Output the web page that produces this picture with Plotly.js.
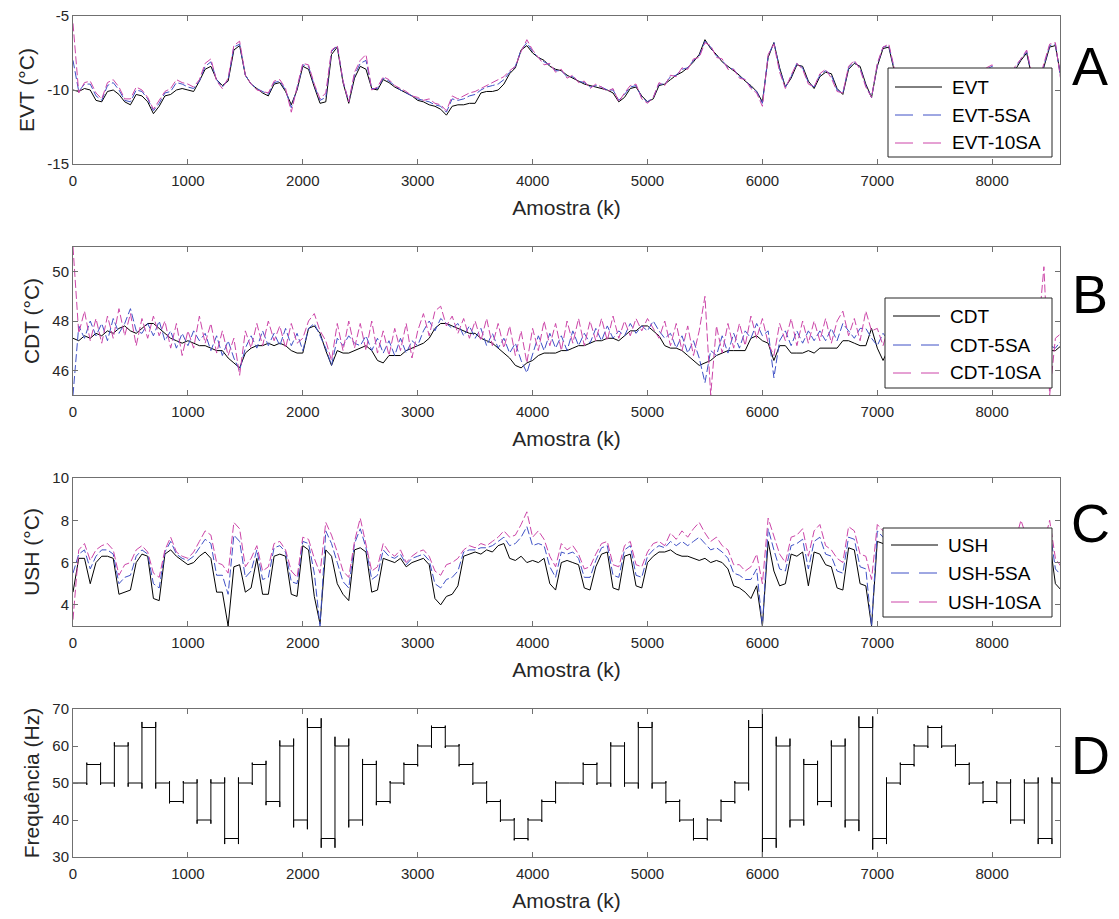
<!DOCTYPE html>
<html>
<head>
<meta charset="utf-8">
<script src="https://cdn.plot.ly/plotly-3.0.1.min.js"></script>
<style>
html,body{margin:0;padding:0;background:#fff;}
#chart{width:1119px;height:919px;}
</style>
</head>
<body>
<div id="chart"></div>
<script>
// ---------------- DATA ----------------
const sampleStep = 50;          // samples between stored values
const xMax = 8590;              // last sample shown

const evt = [
-10.0,-10.1,-9.9,-10.0,-10.7,-10.8,-10.1,-10.0,-10.3,-10.8,
-11.0,-10.3,-10.4,-10.8,-11.6,-11.1,-10.4,-10.3,-10.0,-9.9,
-10.0,-10.1,-9.4,-8.6,-8.4,-9.3,-9.7,-9.4,-7.3,-7.0,
-9.0,-9.6,-9.9,-10.2,-10.4,-9.6,-9.5,-10.1,-11.0,-10.0,
-8.4,-8.6,-9.8,-10.9,-10.8,-7.6,-7.1,-9.5,-10.9,-9.2,
-8.4,-8.6,-9.9,-10.0,-9.3,-9.5,-9.8,-10.0,-10.2,-10.4,
-10.7,-10.8,-11.0,-11.1,-11.3,-11.7,-11.1,-11.0,-11.0,-10.9,
-10.9,-10.2,-10.1,-10.1,-10.0,-9.6,-8.9,-8.5,-7.3,-7.0,
-7.5,-7.8,-8.0,-8.4,-8.6,-8.7,-9.0,-9.2,-9.4,-9.6,
-9.7,-9.8,-9.9,-10.0,-10.2,-10.8,-10.5,-9.9,-9.8,-10.4,
-10.8,-10.6,-9.7,-9.6,-9.3,-9.0,-8.8,-8.5,-8.1,-7.6,
-6.6,-7.2,-7.6,-8.1,-8.4,-8.7,-9.0,-9.4,-9.7,-10.1,
-10.8,-7.8,-6.8,-8.5,-9.8,-9.2,-8.3,-8.4,-9.4,-9.9,
-9.1,-8.8,-8.9,-9.9,-10.3,-8.6,-8.2,-8.4,-9.6,-10.5,
-8.4,-7.2,-7.1,-8.8,-9.6,-9.8,-9.4,-9.2,-9.5,-9.9,
-10.0,-9.6,-9.3,-9.5,-9.8,-9.6,-9.2,-9.0,-8.9,-8.7,
-8.6,-9.4,-9.8,-9.3,-8.6,-8.0,-7.5,-9.3,-9.8,-8.4,
-7.1,-7.0,-9.2];

const evt5sa = [
-8.0,-10.1,-9.6,-9.6,-10.4,-10.7,-9.7,-9.5,-10.0,-10.7,
-10.8,-10.0,-10.1,-10.6,-11.4,-10.9,-10.2,-10.1,-9.5,-9.6,
-9.8,-9.9,-9.4,-8.4,-8.1,-9.3,-9.8,-9.3,-7.1,-6.9,
-9.0,-9.6,-9.9,-10.1,-10.3,-9.5,-9.4,-10.0,-11.2,-9.9,
-8.3,-8.4,-9.7,-10.7,-10.5,-7.4,-7.0,-9.4,-10.8,-9.0,
-8.2,-8.0,-9.9,-9.9,-9.2,-9.4,-9.7,-10.0,-10.2,-10.4,
-10.6,-10.7,-10.8,-11.0,-11.1,-11.5,-10.6,-10.7,-10.6,-10.4,
-10.3,-10.0,-9.8,-9.7,-9.6,-9.3,-8.8,-8.4,-7.3,-6.8,
-7.4,-7.8,-8.1,-8.3,-8.7,-8.7,-9.1,-9.1,-9.4,-9.5,
-9.8,-9.7,-9.8,-10.0,-10.0,-10.7,-10.3,-9.8,-9.7,-10.5,
-10.8,-10.5,-9.6,-9.6,-9.1,-9.0,-8.6,-8.5,-8.0,-7.7,
-6.7,-7.1,-7.7,-8.0,-8.5,-8.6,-9.1,-9.3,-9.8,-10.1,
-10.9,-7.7,-6.8,-8.6,-9.8,-9.1,-8.2,-8.5,-9.5,-9.8,
-9.0,-8.7,-9.0,-10.0,-10.2,-8.5,-8.1,-8.5,-9.7,-10.5,
-8.3,-7.1,-7.0,-8.7,-9.5,-9.7,-9.3,-9.1,-9.4,-9.8,
-9.9,-9.5,-9.2,-9.4,-9.7,-9.5,-9.1,-8.9,-8.8,-8.6,
-8.4,-9.3,-9.7,-9.2,-8.5,-7.9,-7.4,-9.2,-9.7,-8.3,
-7.0,-6.9,-9.4];

const evt10sa = [
-5.5,-10.2,-9.5,-9.4,-10.2,-10.6,-9.5,-9.3,-9.8,-10.6,
-10.6,-9.8,-10.0,-10.5,-11.3,-10.7,-10.1,-9.9,-9.3,-9.5,
-9.6,-9.8,-9.3,-8.2,-7.9,-9.4,-9.9,-9.2,-7.0,-6.7,
-9.0,-9.6,-10.0,-10.1,-10.2,-9.4,-9.3,-9.9,-11.5,-9.8,
-8.2,-8.3,-9.6,-10.6,-10.2,-7.3,-7.0,-9.4,-10.8,-8.8,
-8.0,-7.6,-10.0,-9.8,-9.1,-9.3,-9.7,-9.9,-10.1,-10.4,
-10.5,-10.7,-10.6,-10.9,-11.0,-11.4,-10.4,-10.6,-10.4,-10.2,
-10.1,-9.9,-9.7,-9.5,-9.3,-9.1,-8.7,-8.4,-7.4,-6.6,
-7.3,-7.8,-8.3,-8.2,-8.8,-8.6,-9.2,-9.0,-9.5,-9.4,
-9.9,-9.6,-9.8,-10.1,-9.9,-10.8,-10.2,-9.7,-9.6,-10.6,
-10.9,-10.5,-9.5,-9.7,-9.0,-9.1,-8.5,-8.6,-7.9,-7.8,
-6.8,-7.0,-7.8,-7.9,-8.6,-8.6,-9.2,-9.3,-9.9,-10.2,
-11.1,-7.6,-6.9,-8.8,-9.9,-9.0,-8.2,-8.6,-9.6,-9.8,
-8.9,-8.6,-9.2,-10.1,-10.2,-8.4,-8.0,-8.6,-9.8,-10.5,
-8.2,-7.1,-6.9,-8.6,-9.4,-9.6,-9.2,-9.0,-9.3,-9.7,
-9.8,-9.4,-9.1,-9.3,-9.6,-9.4,-9.0,-8.8,-8.7,-8.5,
-8.3,-9.2,-9.6,-9.1,-8.4,-7.9,-7.3,-9.1,-9.6,-8.2,
-6.9,-6.8,-9.5];

const cdt = [
47.3,47.2,47.4,47.3,47.5,47.4,47.6,47.5,47.7,47.8,
47.6,47.5,47.7,47.9,47.9,47.7,47.5,47.3,47.2,47.1,
47.2,47.1,47.0,47.0,46.9,46.8,46.8,46.5,46.3,46.1,
46.7,46.9,47.0,47.0,47.1,47.0,47.1,47.0,46.8,46.7,
46.7,47.7,47.8,47.5,46.8,46.2,46.8,46.7,46.7,46.8,
46.9,47.0,46.8,46.4,46.3,46.6,46.6,46.6,46.8,46.9,
47.0,47.1,47.3,47.7,47.9,47.9,47.8,47.7,47.6,47.5,
47.5,47.3,47.2,47.1,46.9,46.7,46.5,46.2,46.1,46.3,
46.4,46.6,46.7,46.7,46.7,46.8,46.8,46.9,47.0,47.0,
47.1,47.2,47.2,47.3,47.3,47.2,47.4,47.6,47.6,47.8,
47.8,47.6,47.4,47.0,46.9,46.9,46.8,46.6,46.4,46.2,
46.3,46.4,46.6,46.7,46.8,46.8,46.8,46.8,47.3,47.4,
47.2,47.1,46.4,47.0,47.0,46.7,46.7,46.7,46.8,46.7,
46.9,46.9,46.9,46.9,47.2,47.2,47.1,47.0,47.0,47.7,
46.9,46.4,46.9,47.0,47.0,47.1,47.0,46.9,47.0,47.1,
47.0,46.9,47.0,47.1,47.0,46.9,47.0,47.1,47.0,46.9,
47.0,47.1,47.0,46.9,47.0,47.1,47.0,46.9,46.9,47.0,
46.8,46.8,47.0];

const cdt5sa = [
45.0,47.8,47.3,48.0,47.4,47.9,47.2,48.1,47.5,47.9,
48.5,47.6,47.5,47.9,47.4,48.0,47.2,47.6,46.9,47.5,
47.0,47.6,47.2,47.5,46.8,47.4,46.6,47.2,46.5,46.0,
46.9,47.4,46.9,47.6,47.0,47.5,47.0,47.7,47.0,47.5,
46.8,47.7,47.9,47.4,46.9,46.2,47.3,47.0,47.4,47.1,
47.0,47.4,46.8,47.3,46.7,47.2,46.6,47.3,46.7,47.2,
47.0,47.6,48.0,47.6,48.1,47.9,47.7,47.9,47.4,47.8,
47.3,47.7,47.0,47.5,46.9,47.3,46.7,47.1,46.4,45.9,
46.7,47.4,46.8,47.5,46.9,47.4,46.8,47.6,47.0,47.5,
47.1,47.7,47.2,47.8,47.3,47.6,47.4,47.9,47.5,47.8,
47.6,48.0,47.6,47.3,47.5,46.9,47.4,46.7,47.2,46.5,
45.5,46.8,46.6,47.4,46.7,47.5,46.9,47.6,47.3,47.9,
47.4,47.6,45.7,47.2,47.6,47.0,47.6,47.1,47.6,47.2,
47.6,47.2,47.7,47.2,47.9,47.6,47.3,47.7,47.7,47.3,
47.0,47.5,47.2,47.6,47.2,47.6,47.2,47.5,47.2,47.6,
47.2,47.5,47.2,47.6,47.2,47.5,47.2,47.6,47.2,47.5,
47.2,47.6,47.2,47.5,47.2,47.6,47.2,47.5,47.3,47.2,
47.0,46.9,47.2];

const cdt10sa = [
51.0,47.5,48.4,47.2,48.1,47.1,48.2,47.3,48.5,47.4,
48.3,47.0,48.1,47.3,48.2,47.4,48.0,46.9,47.9,46.6,
47.6,46.9,48.2,47.1,47.9,46.7,47.6,46.6,47.3,45.8,
47.6,46.9,47.9,47.0,48.0,47.2,47.8,46.9,47.9,47.1,
47.3,48.0,48.3,47.6,47.2,46.4,47.9,46.8,48.0,46.9,
47.9,46.8,48.0,46.7,47.6,46.6,47.7,46.8,47.9,46.5,
47.6,48.3,47.4,48.4,48.6,47.8,48.2,47.5,48.1,47.3,
48.0,47.2,48.1,47.0,47.9,46.9,47.8,46.6,47.6,46.3,
47.7,46.8,48.0,47.0,47.9,46.8,48.0,47.1,48.1,47.0,
48.0,47.2,48.1,47.2,48.2,47.3,48.0,47.4,48.1,47.6,
48.1,47.7,47.3,48.0,47.0,47.9,46.8,47.8,46.6,47.6,
49.0,45.0,47.8,46.7,47.9,46.9,47.9,47.0,48.2,47.3,
48.1,47.1,46.6,47.9,47.2,48.1,47.0,48.0,47.1,48.0,
47.2,48.1,47.1,48.0,48.4,47.4,48.1,47.2,48.4,47.6,
47.7,47.0,47.8,47.1,47.9,47.2,47.8,47.1,47.9,47.2,
47.8,47.1,47.9,47.2,47.8,47.1,47.9,47.2,47.8,47.1,
47.9,47.2,47.8,47.1,47.9,47.2,47.8,47.1,47.5,50.2,
45.0,47.3,47.5];

const ush = [
4.6,6.2,6.2,5.0,6.0,6.3,6.3,6.2,4.5,4.6,
4.7,6.0,6.4,6.3,4.3,4.2,6.4,6.6,6.3,6.1,
5.9,6.0,6.3,6.5,6.2,4.6,4.6,3.0,5.8,5.9,
4.6,4.8,6.2,4.5,4.5,6.3,6.4,6.3,4.5,4.4,
6.8,6.6,4.4,3.1,6.6,6.3,5.0,4.5,4.2,6.6,
6.7,6.5,4.6,4.7,6.2,6.1,6.0,6.2,5.8,6.0,
6.1,6.2,5.9,4.3,4.0,4.4,4.5,4.9,6.3,6.4,
6.5,6.4,6.6,6.5,6.8,6.9,6.2,6.1,6.3,6.0,
6.1,6.0,6.2,5.0,4.7,6.0,6.1,6.0,5.9,4.8,
4.7,5.8,6.4,6.5,4.8,4.7,6.3,6.4,4.9,4.8,
6.0,6.3,6.5,6.5,6.6,6.4,6.3,6.3,6.2,6.1,
6.2,6.0,6.1,6.0,5.7,4.9,4.8,4.6,4.3,4.9,
3.0,7.0,5.6,4.9,5.0,6.4,6.3,6.5,4.9,6.5,
6.4,5.9,5.8,4.8,4.7,6.7,6.6,5.0,4.9,3.0,
7.0,6.9,6.5,6.2,6.0,6.1,6.3,6.1,6.0,6.2,
6.1,6.0,6.1,6.2,6.0,5.9,6.1,6.0,6.2,6.1,
6.0,5.1,5.0,6.0,6.1,7.0,6.4,5.0,5.0,6.0,
7.0,5.0,4.7];

const ush5sa = [
5.5,6.4,6.6,5.7,6.3,6.6,6.6,6.4,5.0,5.3,
5.4,6.3,6.6,6.4,5.0,4.8,6.5,7.0,6.4,6.2,
6.1,6.3,6.7,7.1,6.9,5.4,5.4,4.5,7.3,7.0,
5.3,5.6,6.6,5.2,5.3,6.7,6.8,6.5,5.1,5.0,
7.0,6.9,5.5,3.0,7.5,6.9,6.0,5.1,4.8,6.9,
7.6,6.7,5.2,5.4,6.6,6.3,6.2,6.4,5.9,6.2,
6.3,6.4,6.1,5.0,4.8,5.2,5.3,5.6,6.5,6.6,
6.6,6.7,6.7,6.8,7.0,7.2,6.8,6.9,7.2,7.7,
6.8,6.9,6.8,5.8,5.3,6.5,6.4,6.5,6.2,5.3,
5.3,6.1,6.7,6.8,5.4,5.3,6.6,6.8,5.4,5.3,
6.3,6.6,6.8,6.7,7.0,6.8,7.0,6.8,7.0,7.2,
6.9,6.6,6.7,6.5,6.2,5.5,5.4,5.2,5.2,5.7,
3.0,7.6,6.6,5.7,5.6,6.8,6.9,7.1,5.7,7.0,
7.2,6.4,6.3,5.6,5.5,7.2,7.1,5.8,5.7,3.0,
7.5,7.2,6.9,6.5,6.4,6.5,6.7,6.5,6.3,6.6,
6.4,6.3,6.5,6.6,6.4,6.3,6.5,6.4,6.6,6.5,
6.4,5.6,5.5,6.4,6.6,7.6,6.8,5.6,5.6,6.5,
7.6,5.7,5.4];

const ush10sa = [
3.3,6.6,6.9,6.1,6.6,6.8,6.9,6.6,5.4,5.9,
6.0,6.6,6.8,6.5,5.5,5.3,6.6,7.2,6.5,6.3,
6.2,6.5,7.0,7.5,7.3,6.0,5.9,5.5,7.9,7.6,
5.8,6.2,6.8,5.6,5.8,6.9,7.0,6.6,5.6,5.3,
7.2,7.1,6.2,5.5,7.9,7.3,6.5,5.6,5.3,7.0,
8.1,6.9,5.6,5.8,6.9,6.5,6.3,6.6,6.0,6.3,
6.5,6.6,6.3,5.6,5.4,5.9,6.0,6.2,6.6,6.8,
6.7,6.9,6.8,7.0,7.2,7.5,7.2,7.3,7.8,8.4,
7.2,7.5,7.1,6.3,5.8,6.9,6.6,6.8,6.4,5.7,
5.8,6.4,6.9,7.0,5.9,5.8,6.8,7.0,5.9,5.8,
6.5,6.9,7.0,6.8,7.4,7.1,7.5,7.2,7.6,7.9,
7.4,7.0,7.2,6.8,6.6,5.9,5.9,5.6,5.8,6.4,
5.0,8.1,7.3,6.4,6.0,7.2,7.3,7.6,6.3,7.5,
7.8,6.8,6.6,6.2,6.0,7.7,7.5,6.4,6.3,5.2,
7.8,7.5,7.1,6.8,6.7,6.9,7.0,6.8,6.6,6.9,
6.7,6.6,6.8,6.9,6.7,6.6,6.8,6.7,6.9,6.8,
6.7,6.0,5.9,6.8,7.0,8.0,7.2,6.0,6.1,6.9,
8.0,6.2,5.8];

// Frequency steps (Hz), each lasting freqStepLen samples
const freqStepLen = 120;
const freqLevels = [
50,55,50,60,50,65,50,45,50,40,50,35,50,55,45,60,40,65,35,60,40,55,45,50,
55,60,65,60,55,50,45,40,35,40,45,50,50,55,50,60,50,65,50,45,40,35,40,45,
50,65,35,60,40,55,45,60,40,65,35,50,55,60,65,60,55,50,45,50,40,50,35,50];
// overshoot (Hz) seen at each transition into step i
const freqShoot = [
0,0.5,0.5,1,1,1.5,1.5,0.5,0.5,1,1,1.5,1.5,0.5,1,1.5,2,2.5,2.5,2.5,2,1.5,1,0.5,
0.5,0.5,0.5,0.5,0.5,0.5,0.5,0.5,0.5,0.5,0.5,0.5,0,0.5,0.5,1,1,1.5,1.5,0.5,0.5,0.5,0.5,0.5,
0.5,2,5,2.5,2,1.5,1,1.5,2,3,3,1.5,0.5,0.5,0.5,0.5,0.5,0.5,0.5,0.5,1,1,1.5,1.5];

const legendNames = [
  ['EVT', 'EVT-5SA', 'EVT-10SA'],
  ['CDT', 'CDT-5SA', 'CDT-10SA'],
  ['USH', 'USH-5SA', 'USH-10SA']];
const panelLetters = ['A', 'B', 'C', 'D'];

// ---------------- BUILD ----------------
const xs = evt.map((_, i) => i * sampleStep);

const fx = [0], fy = [freqLevels[0]];
for (let i = 1; i < freqLevels.length; i++) {
  const t = i * freqStepLen, prev = freqLevels[i-1], cur = freqLevels[i];
  const s = Math.sign(cur - prev), sh = freqShoot[i];
  fx.push(t, t, t, t);
  fy.push(prev, prev - s*sh, cur + s*sh, cur);
}
fx.push(xMax); fy.push(freqLevels[freqLevels.length-1]);

const BLUE = '#3f51c6', MAG = '#cc45a8', BLK = '#000000';
const COLORS = [BLK, BLUE, MAG];
const DATA_DASH = ['solid', '8px,3px', '8px,3px'];
const LEG_DASH = ['solid', '18px,10px', '18px,10px'];
const FONT = 'Liberation Sans, Arial, Helvetica, sans-serif';

function tr(y, k, xa, ya) {
  return {x: xs, y: y, type: 'scatter', mode: 'lines', showlegend: false,
    line: {color: COLORS[k], width: 1, dash: DATA_DASH[k]}, xaxis: xa, yaxis: ya};
}

const traces = [
  tr(evt, 0, 'x', 'y'), tr(evt5sa, 1, 'x', 'y'), tr(evt10sa, 2, 'x', 'y'),
  tr(cdt, 0, 'x2', 'y2'), tr(cdt5sa, 1, 'x2', 'y2'), tr(cdt10sa, 2, 'x2', 'y2'),
  tr(ush, 0, 'x3', 'y3'), tr(ush5sa, 1, 'x3', 'y3'), tr(ush10sa, 2, 'x3', 'y3'),
  {x: fx, y: fy, type: 'scatter', mode: 'lines', line: {color: BLK, width: 1},
   xaxis: 'x4', yaxis: 'y4', showlegend: false}
];

const W = 1119, H = 919;
const xdom = [73/W, 1060/W];
function ydom(top, bottom) { return [1 - bottom/H, 1 - top/H]; }
const px = v => v / W, py = v => 1 - v / H;

function xax(anchor) {
  return {domain: xdom, anchor: anchor, range: [0, xMax],
    tickvals: [0,1000,2000,3000,4000,5000,6000,7000,8000], tickformat: 'd',
    ticks: 'inside', ticklen: 5, tickcolor: '#707070', tickwidth: 1,
    showline: true, linecolor: '#707070', linewidth: 1, mirror: 'ticks',
    showgrid: false, zeroline: false, ticklabelstandoff: 3,
    tickfont: {family: FONT, size: 15, color: '#262626'},
    title: {text: 'Amostra (k)', font: {family: FONT, size: 21, color: '#262626'}, standoff: 12}};
}
function yax(anchor, dom, range, vals, text, title) {
  return {domain: dom, anchor: anchor, range: range, tickvals: vals, ticktext: text,
    ticks: 'inside', ticklen: 5, tickcolor: '#707070', tickwidth: 1,
    showline: true, linecolor: '#707070', linewidth: 1, mirror: 'ticks',
    showgrid: false, zeroline: false,
    tickfont: {family: FONT, size: 15, color: '#262626'},
    title: {text: title, font: {family: FONT, size: 21, color: '#262626'}, standoff: 6}};
}

// hand-drawn legends (box, line samples, labels) in pixel layout positions
const legendBoxes = [
  {l: 888, r: 1052, t: 68, b: 157, rows: [87, 115, 143], x0: 895, x1: 942, tx: 950},
  {l: 885, r: 1052, t: 298, b: 388, rows: [316, 345, 373], x0: 893, x1: 940, tx: 948},
  {l: 883, r: 1052, t: 528, b: 617, rows: [545, 573, 602], x0: 891, x1: 938, tx: 946}];
const shapes = [], annotations = [];
legendBoxes.forEach((b, p) => {
  shapes.push({type: 'rect', xref: 'paper', yref: 'paper', x0: px(b.l), x1: px(b.r),
    y0: py(b.b), y1: py(b.t), fillcolor: '#ffffff', line: {color: '#262626', width: 1}, layer: 'above'});
  b.rows.forEach((ry, k) => {
    shapes.push({type: 'line', xref: 'paper', yref: 'paper', x0: px(b.x0), x1: px(b.x1),
      y0: py(ry), y1: py(ry), line: {color: COLORS[k], width: 1, dash: LEG_DASH[k]}, layer: 'above'});
    annotations.push({text: legendNames[p][k], xref: 'paper', yref: 'paper', x: px(b.tx), y: py(ry),
      xanchor: 'left', yanchor: 'middle', showarrow: false,
      font: {family: FONT, size: 19, color: '#000'}});
  });
});
[66, 294, 523, 755].forEach((y, i) => annotations.push({
  text: panelLetters[i], xref: 'paper', yref: 'paper', x: px(1090), y: py(y),
  xanchor: 'center', yanchor: 'middle', showarrow: false,
  font: {family: FONT, size: 54, color: '#000'}}));

const layout = {
  width: W, height: H, margin: {l: 0, r: 0, t: 0, b: 0},
  paper_bgcolor: '#fff', plot_bgcolor: '#fff', showlegend: false,
  xaxis: xax('y'), xaxis2: xax('y2'), xaxis3: xax('y3'), xaxis4: xax('y4'),
  yaxis: yax('x', ydom(16, 164), [-15, -5], [-15, -10, -5], ['-15', '-10', '-5'], 'EVT (°C)'),
  yaxis2: yax('x2', ydom(247, 395), [45, 51], [46, 48, 50], ['46', '48', '50'], 'CDT (°C)'),
  yaxis3: yax('x3', ydom(478, 626), [3, 10], [4, 6, 8, 10], ['4', '6', '8', '10'], 'USH (°C)'),
  yaxis4: yax('x4', ydom(709, 857), [30, 70], [30, 40, 50, 60, 70], ['30', '40', '50', '60', '70'], 'Frequência (Hz)'),
  shapes: shapes, annotations: annotations
};

Plotly.newPlot('chart', traces, layout, {displayModeBar: false, staticPlot: true});
</script>
</body>
</html>
